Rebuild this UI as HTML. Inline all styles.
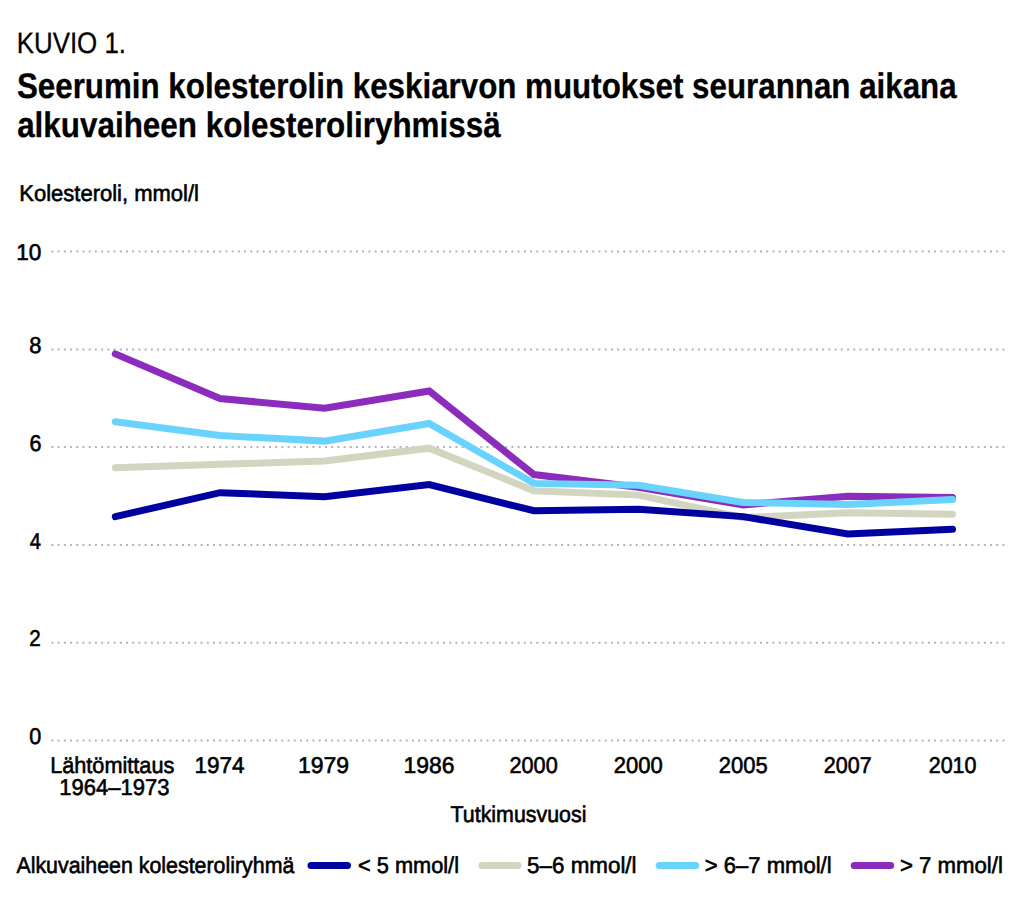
<!DOCTYPE html>
<html lang="fi"><head><meta charset="utf-8"><title>Kuvio 1</title>
<style>
html,body{margin:0;padding:0;background:#fff;}
body{width:1024px;height:923px;overflow:hidden;}
svg{display:block;}
text{font-family:"Liberation Sans", sans-serif;fill:#000;text-rendering:geometricPrecision;}
</style></head><body>
<svg width="1024" height="923" viewBox="0 0 1024 923">
<rect width="1024" height="923" fill="#fff"/>
<line x1="51.4" y1="251.6" x2="1004.7" y2="251.6" stroke="#b4b4b4" stroke-width="2" stroke-dasharray="2 4.216" />
<line x1="51.4" y1="349.4" x2="1004.7" y2="349.4" stroke="#b4b4b4" stroke-width="2" stroke-dasharray="2 4.216" />
<line x1="51.4" y1="447.1" x2="1004.7" y2="447.1" stroke="#b4b4b4" stroke-width="2" stroke-dasharray="2 4.216" />
<line x1="51.4" y1="544.9" x2="1004.7" y2="544.9" stroke="#b4b4b4" stroke-width="2" stroke-dasharray="2 4.216" />
<line x1="51.4" y1="642.7" x2="1004.7" y2="642.7" stroke="#b4b4b4" stroke-width="2" stroke-dasharray="2 4.216" />
<line x1="51.4" y1="740.5" x2="1004.7" y2="740.5" stroke="#b4b4b4" stroke-width="2" stroke-dasharray="2 4.216" />
<polyline points="115.30,467.75 219.95,464.33 324.60,460.91 429.25,448.20 533.90,490.72 638.55,495.12 743.20,517.61 847.85,512.72 952.50,514.19" fill="none" stroke="#d2d5c0" stroke-width="7" stroke-linejoin="miter" stroke-linecap="round"/>
<polyline points="115.30,516.63 219.95,492.68 324.60,496.83 429.25,484.61 533.90,510.76 638.55,509.30 743.20,516.63 847.85,533.98 952.50,529.34" fill="none" stroke="#0000a0" stroke-width="7" stroke-linejoin="miter" stroke-linecap="round"/>
<polyline points="115.30,353.86 219.95,398.58 324.60,408.12 429.25,391.01 533.90,474.59 638.55,487.30 743.20,504.90 847.85,496.34 952.50,497.57" fill="none" stroke="#8c2cbc" stroke-width="7" stroke-linejoin="miter" stroke-linecap="round"/>
<polyline points="115.30,421.80 219.95,435.49 324.60,441.11 429.25,423.51 533.90,483.39 638.55,485.35 743.20,502.45 847.85,504.41 952.50,499.52" fill="none" stroke="#6ad3fd" stroke-width="7" stroke-linejoin="miter" stroke-linecap="round"/>
<line x1="311" y1="865.5" x2="347.5" y2="865.5" stroke="#0000a0" stroke-width="7" stroke-linecap="round"/>
<line x1="482" y1="865.5" x2="518" y2="865.5" stroke="#d2d5c0" stroke-width="7" stroke-linecap="round"/>
<line x1="659.2" y1="865.5" x2="695.7" y2="865.5" stroke="#6ad3fd" stroke-width="7" stroke-linecap="round"/>
<line x1="854.2" y1="865.5" x2="890.7" y2="865.5" stroke="#8c2cbc" stroke-width="7" stroke-linecap="round"/>
<text x="16.68" y="52.5" font-size="29.6" font-weight="400" textLength="109.4" lengthAdjust="spacingAndGlyphs" stroke="#000" stroke-width="0.3" stroke-linejoin="round">KUVIO 1.</text>
<text x="16.96" y="97.5" font-size="35.6" font-weight="700" textLength="939.7" lengthAdjust="spacingAndGlyphs" stroke="#000" stroke-width="0.3" stroke-linejoin="round">Seerumin kolesterolin keskiarvon muutokset seurannan aikana</text>
<text x="17.17" y="136.6" font-size="35.6" font-weight="700" textLength="483.51" lengthAdjust="spacingAndGlyphs" stroke="#000" stroke-width="0.3" stroke-linejoin="round">alkuvaiheen kolesteroliryhmissä</text>
<text x="19.32" y="201.05" font-size="22.9" font-weight="400" textLength="179.67" lengthAdjust="spacingAndGlyphs" stroke="#000" stroke-width="0.6" stroke-linejoin="round">Kolesteroli, mmol/l</text>
<text x="16.16" y="259.85" font-size="22.9" font-weight="400" textLength="25.09" lengthAdjust="spacingAndGlyphs" stroke="#000" stroke-width="0.6" stroke-linejoin="round">10</text>
<text x="29.23" y="353.15" font-size="22.9" font-weight="400" textLength="12.21" lengthAdjust="spacingAndGlyphs" stroke="#000" stroke-width="0.6" stroke-linejoin="round">8</text>
<text x="29.39" y="450.85" font-size="22.9" font-weight="400" textLength="11.99" lengthAdjust="spacingAndGlyphs" stroke="#000" stroke-width="0.6" stroke-linejoin="round">6</text>
<text x="29.8" y="548.65" font-size="22.9" font-weight="400" textLength="11.2" lengthAdjust="spacingAndGlyphs" stroke="#000" stroke-width="0.6" stroke-linejoin="round">4</text>
<text x="29.18" y="646.45" font-size="22.9" font-weight="400" textLength="11.46" lengthAdjust="spacingAndGlyphs" stroke="#000" stroke-width="0.6" stroke-linejoin="round">2</text>
<text x="29.22" y="744.25" font-size="22.9" font-weight="400" textLength="11.99" lengthAdjust="spacingAndGlyphs" stroke="#000" stroke-width="0.6" stroke-linejoin="round">0</text>
<text x="50.17" y="772.55" font-size="22.9" font-weight="400" textLength="124.12" lengthAdjust="spacingAndGlyphs" stroke="#000" stroke-width="0.6" stroke-linejoin="round">Lähtömittaus</text>
<text x="59.21" y="795.25" font-size="22.9" font-weight="400" textLength="110.25" lengthAdjust="spacingAndGlyphs" stroke="#000" stroke-width="0.6" stroke-linejoin="round">1964–1973</text>
<text x="194.41" y="773.05" font-size="22.9" font-weight="400" textLength="50.08" lengthAdjust="spacingAndGlyphs" stroke="#000" stroke-width="0.6" stroke-linejoin="round">1974</text>
<text x="297.97" y="773.05" font-size="22.9" font-weight="400" textLength="51.14" lengthAdjust="spacingAndGlyphs" stroke="#000" stroke-width="0.6" stroke-linejoin="round">1979</text>
<text x="403.6" y="773.05" font-size="22.9" font-weight="400" textLength="50.97" lengthAdjust="spacingAndGlyphs" stroke="#000" stroke-width="0.6" stroke-linejoin="round">1986</text>
<text x="509.5" y="773.05" font-size="22.9" font-weight="400" textLength="48.25" lengthAdjust="spacingAndGlyphs" stroke="#000" stroke-width="0.6" stroke-linejoin="round">2000</text>
<text x="613.81" y="773.05" font-size="22.9" font-weight="400" textLength="48.9" lengthAdjust="spacingAndGlyphs" stroke="#000" stroke-width="0.6" stroke-linejoin="round">2000</text>
<text x="718.77" y="773.05" font-size="22.9" font-weight="400" textLength="48.84" lengthAdjust="spacingAndGlyphs" stroke="#000" stroke-width="0.6" stroke-linejoin="round">2005</text>
<text x="823.85" y="773.05" font-size="22.9" font-weight="400" textLength="47.82" lengthAdjust="spacingAndGlyphs" stroke="#000" stroke-width="0.6" stroke-linejoin="round">2007</text>
<text x="928.71" y="773.05" font-size="22.9" font-weight="400" textLength="47.8" lengthAdjust="spacingAndGlyphs" stroke="#000" stroke-width="0.6" stroke-linejoin="round">2010</text>
<text x="450.54" y="821.55" font-size="22.9" font-weight="400" textLength="135.94" lengthAdjust="spacingAndGlyphs" stroke="#000" stroke-width="0.6" stroke-linejoin="round">Tutkimusvuosi</text>
<text x="16.43" y="873.05" font-size="22.9" font-weight="400" textLength="277.94" lengthAdjust="spacingAndGlyphs" stroke="#000" stroke-width="0.6" stroke-linejoin="round">Alkuvaiheen kolesteroliryhmä</text>
<text x="358.0" y="873.05" font-size="22.9" font-weight="400" textLength="101.0" lengthAdjust="spacingAndGlyphs" stroke="#000" stroke-width="0.6" stroke-linejoin="round">&lt; 5 mmol/l</text>
<text x="527.09" y="873.05" font-size="22.9" font-weight="400" textLength="109.48" lengthAdjust="spacingAndGlyphs" stroke="#000" stroke-width="0.6" stroke-linejoin="round">5–6 mmol/l</text>
<text x="704.81" y="873.05" font-size="22.9" font-weight="400" textLength="126.86" lengthAdjust="spacingAndGlyphs" stroke="#000" stroke-width="0.6" stroke-linejoin="round">&gt; 6–7 mmol/l</text>
<text x="899.88" y="873.05" font-size="22.9" font-weight="400" textLength="103.0" lengthAdjust="spacingAndGlyphs" stroke="#000" stroke-width="0.6" stroke-linejoin="round">&gt; 7 mmol/l</text>
</svg>
</body></html>
